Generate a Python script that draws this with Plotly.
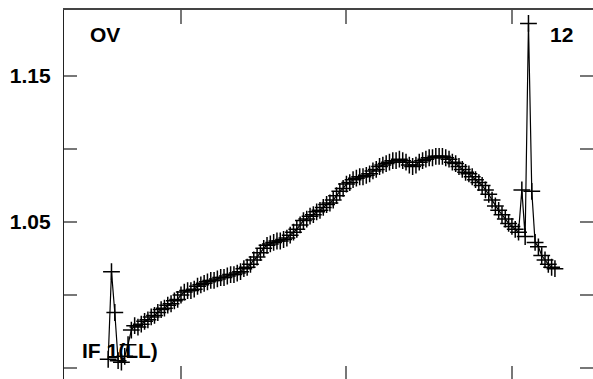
import plotly.graph_objects as go

# channel index (x) and measured ratio (y)
x_start = 28
ratio = [
    0.956, 1.016, 0.988, 0.955, 0.954, 0.958, 0.966, 0.976, 0.979, 0.978,
    0.980, 0.982, 0.983, 0.985, 0.986, 0.988, 0.990, 0.991, 0.993, 0.994,
    0.996, 0.997, 1.000, 1.002, 1.003, 1.003, 1.004, 1.006, 1.007, 1.008,
    1.009, 1.010, 1.010, 1.011, 1.012, 1.012, 1.013, 1.014, 1.014, 1.015,
    1.016, 1.018, 1.019, 1.021, 1.024, 1.026, 1.029, 1.032, 1.034, 1.035,
    1.036, 1.037, 1.037, 1.038, 1.039, 1.041, 1.043, 1.045, 1.048, 1.051,
    1.052, 1.054, 1.055, 1.057, 1.058, 1.060, 1.062, 1.063, 1.065, 1.068,
    1.071, 1.073, 1.076, 1.077, 1.079, 1.080, 1.081, 1.081, 1.082, 1.083,
    1.085, 1.086, 1.088, 1.089, 1.090, 1.091, 1.092, 1.092, 1.093, 1.092,
    1.091, 1.089, 1.088, 1.089, 1.091, 1.092, 1.093, 1.094, 1.094, 1.095,
    1.095, 1.095, 1.094, 1.093, 1.091, 1.090, 1.088, 1.086, 1.084, 1.083,
    1.081, 1.079, 1.077, 1.075, 1.072, 1.069, 1.065, 1.061, 1.058, 1.055,
    1.052, 1.049, 1.047, 1.045, 1.043, 1.072, 1.040, 1.186, 1.071, 1.036,
    1.033, 1.027, 1.024, 1.021, 1.019, 1.018,
]
channel = list(range(x_start, x_start + len(ratio)))

x_ticks = [50, 100, 150]
y_ticks = [0.95, 1.00, 1.05, 1.10, 1.15]
y_ticktext = ["0.95", "", "1.05", "", "1.15"]

FONT = "Liberation Sans, Arial, sans-serif"

fig = go.Figure()
fig.add_trace(go.Scatter(
    x=channel, y=ratio, mode="lines+markers",
    line=dict(color="black", width=1.2),
    marker=dict(symbol="cross-thin", size=12,
                line=dict(color="black", width=1.5), color="black"),
    showlegend=False,
))
# invisible trace on top axis so it renders
fig.add_trace(go.Scatter(x=[channel[0]], y=[ratio[0]], xaxis="x2",
                         mode="markers", marker=dict(opacity=0),
                         showlegend=False, hoverinfo="skip"))

xr = [14.65, 174.5]
fig.update_layout(
    width=593, height=379,
    margin=dict(l=64, r=0, t=10, b=0),
    paper_bgcolor="white", plot_bgcolor="white",
    xaxis=dict(range=xr, tickvals=x_ticks, showticklabels=False,
               ticks="inside", ticklen=13, tickwidth=1.5, tickcolor="#777",
               showline=False, showgrid=False, zeroline=False),
    xaxis2=dict(range=xr, overlaying="x", side="top", tickvals=x_ticks,
                showticklabels=False, ticks="inside", ticklen=14,
                tickwidth=1.5, tickcolor="#777", showline=True,
                linecolor="#444", linewidth=1.5, showgrid=False,
                zeroline=False),
    yaxis=dict(range=[0.94247, 1.1952], tickvals=y_ticks,
               ticktext=y_ticktext, ticks="inside", ticklen=13,
               tickwidth=1.5, tickcolor="#777", showline=True,
               linecolor="#222", linewidth=1.2, mirror="ticks",
               showgrid=False, zeroline=False,
               tickfont=dict(family=FONT, size=21, color="black",
                             weight="bold"),
               ticklabelstandoff=8),
    annotations=[
        dict(text="<b>OV</b>", xref="paper", yref="paper",
             x=(88 - 64) / 529, y=1 - (34 - 10) / 369,
             xanchor="left", yanchor="middle", showarrow=False,
             font=dict(family=FONT, size=21, color="black")),
        dict(text="<b>12</b>", xref="paper", yref="paper",
             x=(575 - 64) / 529, y=1 - (34 - 10) / 369,
             xanchor="right", yanchor="middle", showarrow=False,
             font=dict(family=FONT, size=21, color="black")),
        dict(text="<b>IF 1(LL)</b>", xref="paper", yref="paper",
             x=(80 - 64) / 529, y=1 - (350 - 10) / 369,
             xanchor="left", yanchor="middle", showarrow=False,
             font=dict(family=FONT, size=21, color="black")),
    ],
)

fig.write_html("out.html", config={"displayModeBar": False})
with open("out.html", encoding="utf-8") as f:
    html = f.read()
html = html.replace("<body>", '<body style="margin:0;padding:0;overflow:hidden">', 1)
with open("out.html", "w", encoding="utf-8") as f:
    f.write(html)
